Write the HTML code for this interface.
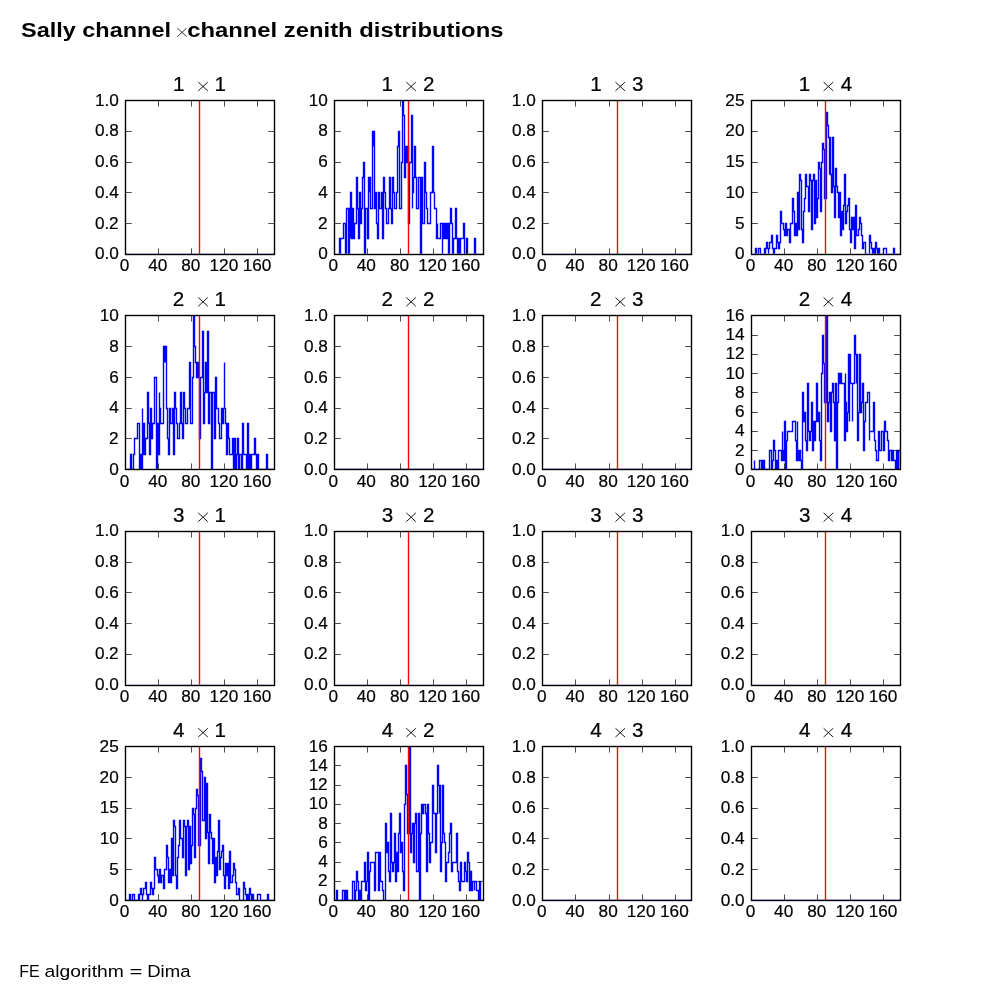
<!DOCTYPE html>
<html><head><meta charset="utf-8"><title>Sally channel x channel zenith distributions</title>
<style>html,body{margin:0;padding:0;background:#fff;}svg{display:block;will-change:transform;}</style></head>
<body>
<svg width="1000" height="1000" viewBox="0 0 1000 1000" font-family="'Liberation Sans', sans-serif" fill="#000">
<rect width="1000" height="1000" fill="#fff"/>
<g font-weight="bold" font-size="19.6px">
<text x="21.0" y="36.9" textLength="150.0" lengthAdjust="spacingAndGlyphs">Sally channel</text>
<text x="187.2" y="36.9" textLength="316.3" lengthAdjust="spacingAndGlyphs">channel zenith distributions</text>
</g>
<path d="M177.4,28.2 L186.6,36.6 M186.6,28.2 L177.4,36.6" stroke="#000" stroke-width="0.8" fill="none"/>
<g font-size="16.9px">
<text x="19.24" y="976.8" textLength="20.54" lengthAdjust="spacingAndGlyphs">FE</text>
<text x="44.45" y="976.8" textLength="79.37" lengthAdjust="spacingAndGlyphs">algorithm</text>
<text x="129.47" y="976.8" textLength="12.9" lengthAdjust="spacingAndGlyphs">=</text>
<text x="147.24" y="976.8" textLength="43.25" lengthAdjust="spacingAndGlyphs">Dima</text>
</g>
<clipPath id="c11"><rect x="125.00" y="100.00" width="149.04" height="153.85"/></clipPath>
<path d="M125.5,254.5 H274.5" stroke="#00f" stroke-width="1.39" fill="none" stroke-linejoin="miter" clip-path="url(#c11)"/>
<path d="M199.50,100.00 V253.85" stroke="#f00" stroke-width="1.39" fill="none"/>
<path d="M125.5,254.5 v-6.1 M125.5,100.5 v6.1 M158.5,254.5 v-6.1 M158.5,100.5 v6.1 M191.5,254.5 v-6.1 M191.5,100.5 v6.1 M224.5,254.5 v-6.1 M224.5,100.5 v6.1 M257.5,254.5 v-6.1 M257.5,100.5 v6.1 M125.5,254.5 h6.3 M274.5,254.5 h-6.3 M125.5,223.5 h6.3 M274.5,223.5 h-6.3 M125.5,192.5 h6.3 M274.5,192.5 h-6.3 M125.5,162.5 h6.3 M274.5,162.5 h-6.3 M125.5,131.5 h6.3 M274.5,131.5 h-6.3 M125.5,100.5 h6.3 M274.5,100.5 h-6.3" stroke="#000" stroke-width="0.7" fill="none"/>
<rect x="125.5" y="100.5" width="149.0" height="154.0" fill="none" stroke="#000" stroke-width="1.39"/>
<g font-size="17.2px" stroke="#000" stroke-width="0.2">
<text x="119.81" y="271.25">0</text>
<text x="148.16 157.70" y="271.25">40</text>
<text x="181.28 190.82" y="271.25">80</text>
<text x="209.54 218.95 228.72" y="271.25">120</text>
<text x="242.66 252.29 261.84" y="271.25">160</text>
<text x="95.03 104.57 109.34" y="259.45">0.0</text>
<text x="95.03 104.57 109.12" y="228.68">0.2</text>
<text x="95.03 104.57 109.34" y="197.91">0.4</text>
<text x="95.03 104.57 109.34" y="167.14">0.6</text>
<text x="95.03 104.57 109.34" y="136.37">0.8</text>
<text x="94.94 104.57 109.34" y="105.60">1.0</text>
</g>
<g font-size="20.6px" stroke="#000" stroke-width="0.22">
<text x="172.91" y="91.00">1</text>
<text x="214.61" y="91.00">1</text>
</g>
<path d="M198.22,82.10 L207.82,90.90 M207.82,82.10 L198.22,90.90" stroke="#000" stroke-width="0.9" fill="none"/>
<clipPath id="c12"><rect x="333.65" y="100.00" width="149.04" height="153.85"/></clipPath>
<path d="M334.5,254.5 H339.5 V238.5 H340.5 V254.5 V238.5 V238.5 H343.5 V223.5 H345.5 V254.5 H346.5 V208.5 H348.5 V254.5 H349.5 V208.5 H350.5 V238.5 V192.5 V192.5 H351.5 V238.5 H352.5 V208.5 H353.5 V238.5 H354.5 V223.5 H356.5 V177.5 H357.5 V208.5 H358.5 V238.5 H359.5 V192.5 H360.5 V223.5 H361.5 V208.5 H362.5 V177.5 H363.5 V162.5 H364.5 V254.5 H365.5 V208.5 H367.5 V238.5 H368.5 V177.5 H369.5 V192.5 V177.5 V177.5 H370.5 V208.5 H372.5 V131.5 H373.5 V146.5 V131.5 V131.5 H374.5 V208.5 H375.5 V192.5 H376.5 V223.5 H377.5 V238.5 H378.5 V192.5 H379.5 V208.5 H381.5 V192.5 H382.5 V238.5 H383.5 V177.5 H384.5 V192.5 H385.5 V208.5 H386.5 V223.5 H388.5 V208.5 H389.5 V177.5 H390.5 V208.5 H391.5 V223.5 H392.5 V177.5 H393.5 V192.5 H394.5 V208.5 H396.5 V192.5 H397.5 V146.5 H398.5 V131.5 H399.5 V208.5 H401.5 V162.5 H402.5 V100.5 H403.5 V115.5 H404.5 V177.5 H405.5 V146.5 H406.5 V162.5 H407.5 V146.5 H408.5 V223.5 H409.5 V162.5 H411.5 V115.5 H412.5 V208.5 V115.5 V192.5 H413.5 V177.5 H414.5 V146.5 H415.5 V177.5 H416.5 V208.5 H418.5 V177.5 H420.5 V254.5 H421.5 V177.5 H422.5 V223.5 H424.5 V162.5 H425.5 V192.5 H426.5 V208.5 H427.5 V223.5 H430.5 V192.5 H432.5 V146.5 H433.5 V192.5 H434.5 V208.5 H436.5 V238.5 H437.5 V238.5 V223.5 V238.5 H440.5 V223.5 H442.5 V254.5 V223.5 V238.5 H443.5 V223.5 H444.5 V238.5 H445.5 V223.5 H446.5 V238.5 H447.5 V223.5 H448.5 V254.5 H449.5 V223.5 H450.5 V208.5 H451.5 V223.5 H452.5 V254.5 H453.5 V238.5 H455.5 V208.5 H456.5 V238.5 H457.5 V254.5 H458.5 V238.5 H459.5 V254.5 H460.5 V238.5 H463.5 V223.5 H464.5 V254.5 H466.5 V238.5 H467.5 V254.5 H474.5 V238.5 H475.5 V254.5 H483.5 H483.5 V254.5" stroke="#00f" stroke-width="1.39" fill="none" stroke-linejoin="miter" clip-path="url(#c12)"/>
<path d="M408.50,100.00 V253.85" stroke="#f00" stroke-width="1.39" fill="none"/>
<path d="M334.5,254.5 v-6.1 M334.5,100.5 v6.1 M367.5,254.5 v-6.1 M367.5,100.5 v6.1 M400.5,254.5 v-6.1 M400.5,100.5 v6.1 M433.5,254.5 v-6.1 M433.5,100.5 v6.1 M466.5,254.5 v-6.1 M466.5,100.5 v6.1 M334.5,254.5 h6.3 M483.5,254.5 h-6.3 M334.5,223.5 h6.3 M483.5,223.5 h-6.3 M334.5,192.5 h6.3 M483.5,192.5 h-6.3 M334.5,162.5 h6.3 M483.5,162.5 h-6.3 M334.5,131.5 h6.3 M483.5,131.5 h-6.3 M334.5,100.5 h6.3 M483.5,100.5 h-6.3" stroke="#000" stroke-width="0.7" fill="none"/>
<rect x="334.5" y="100.5" width="149.0" height="154.0" fill="none" stroke="#000" stroke-width="1.39"/>
<g font-size="17.2px" stroke="#000" stroke-width="0.2">
<text x="328.47" y="271.25">0</text>
<text x="356.81 366.36" y="271.25">40</text>
<text x="389.93 399.48" y="271.25">80</text>
<text x="418.20 427.61 437.37" y="271.25">120</text>
<text x="451.32 460.95 470.49" y="271.25">160</text>
<text x="318.30" y="259.45">0</text>
<text x="318.08" y="228.68">2</text>
<text x="318.29" y="197.91">4</text>
<text x="318.30" y="167.14">6</text>
<text x="318.29" y="136.37">8</text>
<text x="308.67 318.30" y="105.60">10</text>
</g>
<g font-size="20.6px" stroke="#000" stroke-width="0.22">
<text x="381.56" y="91.00">1</text>
<text x="423.10" y="91.00">2</text>
</g>
<path d="M406.27,82.10 L415.87,90.90 M415.87,82.10 L406.27,90.90" stroke="#000" stroke-width="0.9" fill="none"/>
<clipPath id="c13"><rect x="542.31" y="100.00" width="149.04" height="153.85"/></clipPath>
<path d="M542.5,254.5 H691.5" stroke="#00f" stroke-width="1.39" fill="none" stroke-linejoin="miter" clip-path="url(#c13)"/>
<path d="M617.50,100.00 V253.85" stroke="#f00" stroke-width="1.39" fill="none"/>
<path d="M542.5,254.5 v-6.1 M542.5,100.5 v6.1 M575.5,254.5 v-6.1 M575.5,100.5 v6.1 M609.5,254.5 v-6.1 M609.5,100.5 v6.1 M642.5,254.5 v-6.1 M642.5,100.5 v6.1 M675.5,254.5 v-6.1 M675.5,100.5 v6.1 M542.5,254.5 h6.3 M691.5,254.5 h-6.3 M542.5,223.5 h6.3 M691.5,223.5 h-6.3 M542.5,192.5 h6.3 M691.5,192.5 h-6.3 M542.5,162.5 h6.3 M691.5,162.5 h-6.3 M542.5,131.5 h6.3 M691.5,131.5 h-6.3 M542.5,100.5 h6.3 M691.5,100.5 h-6.3" stroke="#000" stroke-width="0.7" fill="none"/>
<rect x="542.5" y="100.5" width="149.0" height="154.0" fill="none" stroke="#000" stroke-width="1.39"/>
<g font-size="17.2px" stroke="#000" stroke-width="0.2">
<text x="537.12" y="271.25">0</text>
<text x="565.47 575.01" y="271.25">40</text>
<text x="598.59 608.13" y="271.25">80</text>
<text x="626.85 636.26 646.02" y="271.25">120</text>
<text x="659.97 669.60 679.14" y="271.25">160</text>
<text x="511.94 521.48 526.25" y="259.45">0.0</text>
<text x="511.94 521.48 526.03" y="228.68">0.2</text>
<text x="511.94 521.48 526.25" y="197.91">0.4</text>
<text x="511.94 521.48 526.25" y="167.14">0.6</text>
<text x="511.94 521.48 526.25" y="136.37">0.8</text>
<text x="511.85 521.48 526.25" y="105.60">1.0</text>
</g>
<g font-size="20.6px" stroke="#000" stroke-width="0.22">
<text x="590.22" y="91.00">1</text>
<text x="632.05" y="91.00">3</text>
</g>
<path d="M615.43,82.10 L625.03,90.90 M625.03,82.10 L615.43,90.90" stroke="#000" stroke-width="0.9" fill="none"/>
<clipPath id="c14"><rect x="750.96" y="100.00" width="149.04" height="153.85"/></clipPath>
<path d="M751.5,254.5 H755.5 V248.5 H756.5 V254.5 H758.5 V248.5 H760.5 V254.5 H764.5 V248.5 H765.5 V254.5 V248.5 V248.5 H766.5 V242.5 H767.5 V248.5 H768.5 V254.5 V248.5 V248.5 H769.5 V242.5 H771.5 V235.5 H772.5 V248.5 H773.5 V254.5 H774.5 V248.5 H776.5 V235.5 H777.5 V242.5 H778.5 V248.5 H779.5 V242.5 H780.5 V211.5 H781.5 V223.5 H783.5 V229.5 H784.5 V235.5 H785.5 V223.5 H786.5 V235.5 H787.5 V229.5 H789.5 V242.5 H790.5 V223.5 H792.5 V198.5 H793.5 V211.5 H794.5 V235.5 H795.5 V223.5 H796.5 V235.5 H797.5 V192.5 H798.5 V229.5 H799.5 V174.5 H800.5 V180.5 H801.5 V229.5 H802.5 V242.5 H803.5 V211.5 H804.5 V198.5 H805.5 V174.5 H806.5 V186.5 H808.5 V211.5 H809.5 V174.5 H810.5 V180.5 H811.5 V229.5 H812.5 V180.5 H813.5 V174.5 H814.5 V223.5 H815.5 V180.5 H816.5 V217.5 H817.5 V198.5 H818.5 V162.5 H819.5 V168.5 H820.5 V211.5 H821.5 V162.5 H822.5 V143.5 H823.5 V149.5 H824.5 V198.5 H826.5 V112.5 H827.5 V125.5 H828.5 V137.5 H829.5 V174.5 V137.5 V137.5 H830.5 V174.5 H831.5 V192.5 H832.5 V137.5 H833.5 V186.5 H834.5 V217.5 H835.5 V168.5 H836.5 V186.5 H837.5 V192.5 H838.5 V217.5 H839.5 V192.5 H840.5 V235.5 H841.5 V211.5 H842.5 V229.5 H843.5 V205.5 H844.5 V174.5 H845.5 V223.5 H846.5 V211.5 H847.5 V205.5 H848.5 V198.5 H849.5 V229.5 H850.5 V242.5 H851.5 V217.5 H852.5 V229.5 H853.5 V217.5 H854.5 V248.5 H855.5 V205.5 H856.5 V235.5 H858.5 V229.5 H859.5 V217.5 H860.5 V223.5 H861.5 V235.5 H862.5 V248.5 H863.5 V242.5 H865.5 V254.5 H869.5 V235.5 H870.5 V242.5 H871.5 V248.5 H872.5 V254.5 H873.5 V248.5 H874.5 V254.5 H875.5 V242.5 H876.5 V248.5 H877.5 V254.5 H878.5 V248.5 H879.5 V254.5 H883.5 V248.5 H886.5 V254.5 H893.5 V248.5 H894.5 V254.5 H900.5 H900.5 V254.5" stroke="#00f" stroke-width="1.39" fill="none" stroke-linejoin="miter" clip-path="url(#c14)"/>
<path d="M825.50,100.00 V253.85" stroke="#f00" stroke-width="1.39" fill="none"/>
<path d="M751.5,254.5 v-6.1 M751.5,100.5 v6.1 M784.5,254.5 v-6.1 M784.5,100.5 v6.1 M817.5,254.5 v-6.1 M817.5,100.5 v6.1 M850.5,254.5 v-6.1 M850.5,100.5 v6.1 M883.5,254.5 v-6.1 M883.5,100.5 v6.1 M751.5,254.5 h6.3 M900.5,254.5 h-6.3 M751.5,223.5 h6.3 M900.5,223.5 h-6.3 M751.5,192.5 h6.3 M900.5,192.5 h-6.3 M751.5,162.5 h6.3 M900.5,162.5 h-6.3 M751.5,131.5 h6.3 M900.5,131.5 h-6.3 M751.5,100.5 h6.3 M900.5,100.5 h-6.3" stroke="#000" stroke-width="0.7" fill="none"/>
<rect x="751.5" y="100.5" width="149.0" height="154.0" fill="none" stroke="#000" stroke-width="1.39"/>
<g font-size="17.2px" stroke="#000" stroke-width="0.2">
<text x="745.77" y="271.25">0</text>
<text x="774.12 783.67" y="271.25">40</text>
<text x="807.24 816.79" y="271.25">80</text>
<text x="835.51 844.91 854.68" y="271.25">120</text>
<text x="868.63 878.26 887.80" y="271.25">160</text>
<text x="735.10" y="259.45">0</text>
<text x="735.04" y="228.68">5</text>
<text x="725.47 735.10" y="197.91">10</text>
<text x="725.47 735.04" y="167.14">15</text>
<text x="725.34 735.10" y="136.37">20</text>
<text x="725.34 735.04" y="105.60">25</text>
</g>
<g font-size="20.6px" stroke="#000" stroke-width="0.22">
<text x="798.87" y="91.00">1</text>
<text x="840.67" y="91.00">4</text>
</g>
<path d="M823.58,82.10 L833.18,90.90 M833.18,82.10 L823.58,90.90" stroke="#000" stroke-width="0.9" fill="none"/>
<clipPath id="c21"><rect x="125.00" y="315.38" width="149.04" height="153.85"/></clipPath>
<path d="M125.5,469.5 H130.5 V454.5 H131.5 V469.5 H133.5 V454.5 H134.5 V438.5 H137.5 V423.5 H139.5 V469.5 H140.5 V454.5 H141.5 V469.5 H142.5 V469.5 V408.5 V454.5 H143.5 V423.5 H144.5 V454.5 H145.5 V438.5 H147.5 V392.5 H148.5 V423.5 H149.5 V454.5 H150.5 V408.5 H151.5 V438.5 H152.5 V423.5 H154.5 V377.5 H156.5 V469.5 H157.5 V423.5 H158.5 V454.5 H159.5 V454.5 V392.5 V408.5 H160.5 V423.5 H163.5 V346.5 H164.5 V362.5 V346.5 V346.5 H165.5 V362.5 V346.5 V346.5 H166.5 V408.5 H167.5 V438.5 H168.5 V454.5 H169.5 V408.5 H170.5 V423.5 H172.5 V408.5 H173.5 V454.5 H174.5 V392.5 H175.5 V408.5 H176.5 V423.5 H177.5 V438.5 H179.5 V423.5 H180.5 V392.5 H181.5 V423.5 H182.5 V438.5 H183.5 V392.5 H184.5 V408.5 H185.5 V423.5 H187.5 V408.5 H189.5 V362.5 H190.5 V423.5 H192.5 V377.5 H193.5 V315.5 H194.5 V346.5 H195.5 V362.5 H196.5 V377.5 H197.5 V362.5 H198.5 V377.5 H199.5 V438.5 H200.5 V377.5 H202.5 V331.5 H203.5 V423.5 H204.5 V392.5 H205.5 V362.5 H206.5 V392.5 H207.5 V331.5 H208.5 V423.5 H209.5 V392.5 H211.5 V469.5 H212.5 V392.5 H214.5 V438.5 H215.5 V377.5 H216.5 V408.5 H218.5 V423.5 H219.5 V438.5 H221.5 V408.5 H222.5 V423.5 H223.5 V408.5 H224.5 V408.5 V362.5 V408.5 H225.5 V423.5 H226.5 V454.5 H227.5 V423.5 H228.5 V438.5 H229.5 V454.5 H232.5 V438.5 H233.5 V469.5 H234.5 V438.5 H235.5 V469.5 H236.5 V454.5 H237.5 V438.5 H238.5 V469.5 H239.5 V454.5 H241.5 V469.5 H242.5 V423.5 H243.5 V454.5 H246.5 V469.5 H247.5 V423.5 H248.5 V469.5 H249.5 V454.5 H250.5 V469.5 H251.5 V454.5 H254.5 V438.5 H255.5 V454.5 H256.5 V469.5 H257.5 V454.5 H258.5 V469.5 H266.5 V454.5 H267.5 V469.5 H274.5 H274.5 V469.5" stroke="#00f" stroke-width="1.39" fill="none" stroke-linejoin="miter" clip-path="url(#c21)"/>
<path d="M199.50,315.38 V469.23" stroke="#f00" stroke-width="1.39" fill="none"/>
<path d="M125.5,469.5 v-6.1 M125.5,315.5 v6.1 M158.5,469.5 v-6.1 M158.5,315.5 v6.1 M191.5,469.5 v-6.1 M191.5,315.5 v6.1 M224.5,469.5 v-6.1 M224.5,315.5 v6.1 M257.5,469.5 v-6.1 M257.5,315.5 v6.1 M125.5,469.5 h6.3 M274.5,469.5 h-6.3 M125.5,438.5 h6.3 M274.5,438.5 h-6.3 M125.5,408.5 h6.3 M274.5,408.5 h-6.3 M125.5,377.5 h6.3 M274.5,377.5 h-6.3 M125.5,346.5 h6.3 M274.5,346.5 h-6.3 M125.5,315.5 h6.3 M274.5,315.5 h-6.3" stroke="#000" stroke-width="0.7" fill="none"/>
<rect x="125.5" y="315.5" width="149.0" height="154.0" fill="none" stroke="#000" stroke-width="1.39"/>
<g font-size="17.2px" stroke="#000" stroke-width="0.2">
<text x="119.81" y="486.63">0</text>
<text x="148.16 157.70" y="486.63">40</text>
<text x="181.28 190.82" y="486.63">80</text>
<text x="209.54 218.95 228.72" y="486.63">120</text>
<text x="242.66 252.29 261.84" y="486.63">160</text>
<text x="109.34" y="474.83">0</text>
<text x="109.12" y="444.06">2</text>
<text x="109.34" y="413.29">4</text>
<text x="109.34" y="382.52">6</text>
<text x="109.34" y="351.75">8</text>
<text x="99.71 109.34" y="320.98">10</text>
</g>
<g font-size="20.6px" stroke="#000" stroke-width="0.22">
<text x="172.75" y="306.38">2</text>
<text x="214.61" y="306.38">1</text>
</g>
<path d="M198.22,297.48 L207.82,306.28 M207.82,297.48 L198.22,306.28" stroke="#000" stroke-width="0.9" fill="none"/>
<clipPath id="c22"><rect x="333.65" y="315.38" width="149.04" height="153.85"/></clipPath>
<path d="M334.5,469.5 H483.5" stroke="#00f" stroke-width="1.39" fill="none" stroke-linejoin="miter" clip-path="url(#c22)"/>
<path d="M408.50,315.38 V469.23" stroke="#f00" stroke-width="1.39" fill="none"/>
<path d="M334.5,469.5 v-6.1 M334.5,315.5 v6.1 M367.5,469.5 v-6.1 M367.5,315.5 v6.1 M400.5,469.5 v-6.1 M400.5,315.5 v6.1 M433.5,469.5 v-6.1 M433.5,315.5 v6.1 M466.5,469.5 v-6.1 M466.5,315.5 v6.1 M334.5,469.5 h6.3 M483.5,469.5 h-6.3 M334.5,438.5 h6.3 M483.5,438.5 h-6.3 M334.5,408.5 h6.3 M483.5,408.5 h-6.3 M334.5,377.5 h6.3 M483.5,377.5 h-6.3 M334.5,346.5 h6.3 M483.5,346.5 h-6.3 M334.5,315.5 h6.3 M483.5,315.5 h-6.3" stroke="#000" stroke-width="0.7" fill="none"/>
<rect x="334.5" y="315.5" width="149.0" height="154.0" fill="none" stroke="#000" stroke-width="1.39"/>
<g font-size="17.2px" stroke="#000" stroke-width="0.2">
<text x="328.47" y="486.63">0</text>
<text x="356.81 366.36" y="486.63">40</text>
<text x="389.93 399.48" y="486.63">80</text>
<text x="418.20 427.61 437.37" y="486.63">120</text>
<text x="451.32 460.95 470.49" y="486.63">160</text>
<text x="303.98 313.53 318.30" y="474.83">0.0</text>
<text x="303.98 313.53 318.08" y="444.06">0.2</text>
<text x="303.98 313.53 318.29" y="413.29">0.4</text>
<text x="303.98 313.53 318.30" y="382.52">0.6</text>
<text x="303.98 313.53 318.29" y="351.75">0.8</text>
<text x="303.90 313.53 318.30" y="320.98">1.0</text>
</g>
<g font-size="20.6px" stroke="#000" stroke-width="0.22">
<text x="381.40" y="306.38">2</text>
<text x="423.10" y="306.38">2</text>
</g>
<path d="M406.27,297.48 L415.87,306.28 M415.87,297.48 L406.27,306.28" stroke="#000" stroke-width="0.9" fill="none"/>
<clipPath id="c23"><rect x="542.31" y="315.38" width="149.04" height="153.85"/></clipPath>
<path d="M542.5,469.5 H691.5" stroke="#00f" stroke-width="1.39" fill="none" stroke-linejoin="miter" clip-path="url(#c23)"/>
<path d="M617.50,315.38 V469.23" stroke="#f00" stroke-width="1.39" fill="none"/>
<path d="M542.5,469.5 v-6.1 M542.5,315.5 v6.1 M575.5,469.5 v-6.1 M575.5,315.5 v6.1 M609.5,469.5 v-6.1 M609.5,315.5 v6.1 M642.5,469.5 v-6.1 M642.5,315.5 v6.1 M675.5,469.5 v-6.1 M675.5,315.5 v6.1 M542.5,469.5 h6.3 M691.5,469.5 h-6.3 M542.5,438.5 h6.3 M691.5,438.5 h-6.3 M542.5,408.5 h6.3 M691.5,408.5 h-6.3 M542.5,377.5 h6.3 M691.5,377.5 h-6.3 M542.5,346.5 h6.3 M691.5,346.5 h-6.3 M542.5,315.5 h6.3 M691.5,315.5 h-6.3" stroke="#000" stroke-width="0.7" fill="none"/>
<rect x="542.5" y="315.5" width="149.0" height="154.0" fill="none" stroke="#000" stroke-width="1.39"/>
<g font-size="17.2px" stroke="#000" stroke-width="0.2">
<text x="537.12" y="486.63">0</text>
<text x="565.47 575.01" y="486.63">40</text>
<text x="598.59 608.13" y="486.63">80</text>
<text x="626.85 636.26 646.02" y="486.63">120</text>
<text x="659.97 669.60 679.14" y="486.63">160</text>
<text x="511.94 521.48 526.25" y="474.83">0.0</text>
<text x="511.94 521.48 526.03" y="444.06">0.2</text>
<text x="511.94 521.48 526.25" y="413.29">0.4</text>
<text x="511.94 521.48 526.25" y="382.52">0.6</text>
<text x="511.94 521.48 526.25" y="351.75">0.8</text>
<text x="511.85 521.48 526.25" y="320.98">1.0</text>
</g>
<g font-size="20.6px" stroke="#000" stroke-width="0.22">
<text x="590.06" y="306.38">2</text>
<text x="632.05" y="306.38">3</text>
</g>
<path d="M615.43,297.48 L625.03,306.28 M625.03,297.48 L615.43,306.28" stroke="#000" stroke-width="0.9" fill="none"/>
<clipPath id="c24"><rect x="750.96" y="315.38" width="149.04" height="153.85"/></clipPath>
<path d="M751.5,469.5 H754.5 V469.5 V460.5 V469.5 H759.5 V460.5 H761.5 V469.5 H762.5 V460.5 H763.5 V469.5 V460.5 V460.5 H764.5 V469.5 H769.5 V450.5 H771.5 V469.5 H772.5 V460.5 H773.5 V440.5 H774.5 V450.5 H775.5 V469.5 H776.5 V460.5 H777.5 V469.5 H778.5 V450.5 H781.5 V460.5 H782.5 V460.5 V431.5 V450.5 H783.5 V460.5 H784.5 V421.5 H785.5 V469.5 H786.5 V440.5 H787.5 V431.5 H792.5 V421.5 H795.5 V440.5 H796.5 V460.5 H797.5 V460.5 V421.5 V450.5 H798.5 V460.5 H799.5 V450.5 H800.5 V460.5 H801.5 V469.5 H802.5 V392.5 H803.5 V421.5 H804.5 V412.5 H805.5 V440.5 H806.5 V450.5 H807.5 V383.5 H808.5 V431.5 H809.5 V440.5 H810.5 V431.5 H811.5 V402.5 H812.5 V450.5 H813.5 V421.5 H814.5 V440.5 H815.5 V421.5 H816.5 V383.5 H817.5 V421.5 H818.5 V412.5 H819.5 V440.5 H820.5 V460.5 H821.5 V373.5 H822.5 V335.5 H823.5 V363.5 H824.5 V402.5 H826.5 V315.5 H827.5 V421.5 H828.5 V402.5 H829.5 V392.5 H830.5 V431.5 H831.5 V392.5 H832.5 V383.5 H833.5 V402.5 H834.5 V440.5 H835.5 V383.5 H836.5 V469.5 H837.5 V402.5 H838.5 V373.5 H839.5 V383.5 H840.5 V373.5 H841.5 V383.5 H844.5 V440.5 H845.5 V440.5 V373.5 V402.5 H846.5 V431.5 H847.5 V412.5 H848.5 V354.5 H849.5 V421.5 V354.5 V354.5 H850.5 V383.5 H852.5 V421.5 V383.5 V383.5 H854.5 V335.5 H855.5 V354.5 H856.5 V383.5 V354.5 V354.5 H857.5 V440.5 H858.5 V412.5 H859.5 V354.5 H860.5 V412.5 H861.5 V402.5 H862.5 V383.5 H863.5 V450.5 H864.5 V421.5 H865.5 V402.5 H867.5 V392.5 H869.5 V440.5 V392.5 V431.5 H873.5 V402.5 H874.5 V440.5 H875.5 V450.5 H876.5 V460.5 H878.5 V431.5 H879.5 V450.5 H881.5 V431.5 H883.5 V450.5 H884.5 V421.5 H885.5 V431.5 H887.5 V440.5 H888.5 V460.5 H889.5 V450.5 H891.5 V460.5 H892.5 V450.5 H893.5 V460.5 H895.5 V469.5 H896.5 V450.5 H897.5 V469.5 H898.5 V450.5 H900.5 H900.5 V469.5" stroke="#00f" stroke-width="1.39" fill="none" stroke-linejoin="miter" clip-path="url(#c24)"/>
<path d="M825.50,315.38 V469.23" stroke="#f00" stroke-width="1.39" fill="none"/>
<path d="M751.5,469.5 v-6.1 M751.5,315.5 v6.1 M784.5,469.5 v-6.1 M784.5,315.5 v6.1 M817.5,469.5 v-6.1 M817.5,315.5 v6.1 M850.5,469.5 v-6.1 M850.5,315.5 v6.1 M883.5,469.5 v-6.1 M883.5,315.5 v6.1 M751.5,469.5 h6.3 M900.5,469.5 h-6.3 M751.5,450.5 h6.3 M900.5,450.5 h-6.3 M751.5,431.5 h6.3 M900.5,431.5 h-6.3 M751.5,412.5 h6.3 M900.5,412.5 h-6.3 M751.5,392.5 h6.3 M900.5,392.5 h-6.3 M751.5,373.5 h6.3 M900.5,373.5 h-6.3 M751.5,354.5 h6.3 M900.5,354.5 h-6.3 M751.5,335.5 h6.3 M900.5,335.5 h-6.3 M751.5,315.5 h6.3 M900.5,315.5 h-6.3" stroke="#000" stroke-width="0.7" fill="none"/>
<rect x="751.5" y="315.5" width="149.0" height="154.0" fill="none" stroke="#000" stroke-width="1.39"/>
<g font-size="17.2px" stroke="#000" stroke-width="0.2">
<text x="745.77" y="486.63">0</text>
<text x="774.12 783.67" y="486.63">40</text>
<text x="807.24 816.79" y="486.63">80</text>
<text x="835.51 844.91 854.68" y="486.63">120</text>
<text x="868.63 878.26 887.80" y="486.63">160</text>
<text x="735.10" y="474.83">0</text>
<text x="734.88" y="455.60">2</text>
<text x="735.10" y="436.37">4</text>
<text x="735.10" y="417.14">6</text>
<text x="735.10" y="397.91">8</text>
<text x="725.47 735.10" y="378.68">10</text>
<text x="725.47 734.88" y="359.45">12</text>
<text x="725.47 735.10" y="340.22">14</text>
<text x="725.47 735.10" y="320.98">16</text>
</g>
<g font-size="20.6px" stroke="#000" stroke-width="0.22">
<text x="798.71" y="306.38">2</text>
<text x="840.67" y="306.38">4</text>
</g>
<path d="M823.58,297.48 L833.18,306.28 M833.18,297.48 L823.58,306.28" stroke="#000" stroke-width="0.9" fill="none"/>
<clipPath id="c31"><rect x="125.00" y="530.77" width="149.04" height="153.85"/></clipPath>
<path d="M125.5,685.5 H274.5" stroke="#00f" stroke-width="1.39" fill="none" stroke-linejoin="miter" clip-path="url(#c31)"/>
<path d="M199.50,530.77 V684.62" stroke="#f00" stroke-width="1.39" fill="none"/>
<path d="M125.5,685.5 v-6.1 M125.5,531.5 v6.1 M158.5,685.5 v-6.1 M158.5,531.5 v6.1 M191.5,685.5 v-6.1 M191.5,531.5 v6.1 M224.5,685.5 v-6.1 M224.5,531.5 v6.1 M257.5,685.5 v-6.1 M257.5,531.5 v6.1 M125.5,685.5 h6.3 M274.5,685.5 h-6.3 M125.5,654.5 h6.3 M274.5,654.5 h-6.3 M125.5,623.5 h6.3 M274.5,623.5 h-6.3 M125.5,592.5 h6.3 M274.5,592.5 h-6.3 M125.5,562.5 h6.3 M274.5,562.5 h-6.3 M125.5,531.5 h6.3 M274.5,531.5 h-6.3" stroke="#000" stroke-width="0.7" fill="none"/>
<rect x="125.5" y="531.5" width="149.0" height="154.0" fill="none" stroke="#000" stroke-width="1.39"/>
<g font-size="17.2px" stroke="#000" stroke-width="0.2">
<text x="119.81" y="702.02">0</text>
<text x="148.16 157.70" y="702.02">40</text>
<text x="181.28 190.82" y="702.02">80</text>
<text x="209.54 218.95 228.72" y="702.02">120</text>
<text x="242.66 252.29 261.84" y="702.02">160</text>
<text x="95.03 104.57 109.34" y="690.22">0.0</text>
<text x="95.03 104.57 109.12" y="659.45">0.2</text>
<text x="95.03 104.57 109.34" y="628.68">0.4</text>
<text x="95.03 104.57 109.34" y="597.91">0.6</text>
<text x="95.03 104.57 109.34" y="567.14">0.8</text>
<text x="94.94 104.57 109.34" y="536.37">1.0</text>
</g>
<g font-size="20.6px" stroke="#000" stroke-width="0.22">
<text x="173.04" y="521.77">3</text>
<text x="214.61" y="521.77">1</text>
</g>
<path d="M198.22,512.87 L207.82,521.67 M207.82,512.87 L198.22,521.67" stroke="#000" stroke-width="0.9" fill="none"/>
<clipPath id="c32"><rect x="333.65" y="530.77" width="149.04" height="153.85"/></clipPath>
<path d="M334.5,685.5 H483.5" stroke="#00f" stroke-width="1.39" fill="none" stroke-linejoin="miter" clip-path="url(#c32)"/>
<path d="M408.50,530.77 V684.62" stroke="#f00" stroke-width="1.39" fill="none"/>
<path d="M334.5,685.5 v-6.1 M334.5,531.5 v6.1 M367.5,685.5 v-6.1 M367.5,531.5 v6.1 M400.5,685.5 v-6.1 M400.5,531.5 v6.1 M433.5,685.5 v-6.1 M433.5,531.5 v6.1 M466.5,685.5 v-6.1 M466.5,531.5 v6.1 M334.5,685.5 h6.3 M483.5,685.5 h-6.3 M334.5,654.5 h6.3 M483.5,654.5 h-6.3 M334.5,623.5 h6.3 M483.5,623.5 h-6.3 M334.5,592.5 h6.3 M483.5,592.5 h-6.3 M334.5,562.5 h6.3 M483.5,562.5 h-6.3 M334.5,531.5 h6.3 M483.5,531.5 h-6.3" stroke="#000" stroke-width="0.7" fill="none"/>
<rect x="334.5" y="531.5" width="149.0" height="154.0" fill="none" stroke="#000" stroke-width="1.39"/>
<g font-size="17.2px" stroke="#000" stroke-width="0.2">
<text x="328.47" y="702.02">0</text>
<text x="356.81 366.36" y="702.02">40</text>
<text x="389.93 399.48" y="702.02">80</text>
<text x="418.20 427.61 437.37" y="702.02">120</text>
<text x="451.32 460.95 470.49" y="702.02">160</text>
<text x="303.98 313.53 318.30" y="690.22">0.0</text>
<text x="303.98 313.53 318.08" y="659.45">0.2</text>
<text x="303.98 313.53 318.29" y="628.68">0.4</text>
<text x="303.98 313.53 318.30" y="597.91">0.6</text>
<text x="303.98 313.53 318.29" y="567.14">0.8</text>
<text x="303.90 313.53 318.30" y="536.37">1.0</text>
</g>
<g font-size="20.6px" stroke="#000" stroke-width="0.22">
<text x="381.69" y="521.77">3</text>
<text x="423.10" y="521.77">2</text>
</g>
<path d="M406.27,512.87 L415.87,521.67 M415.87,512.87 L406.27,521.67" stroke="#000" stroke-width="0.9" fill="none"/>
<clipPath id="c33"><rect x="542.31" y="530.77" width="149.04" height="153.85"/></clipPath>
<path d="M542.5,685.5 H691.5" stroke="#00f" stroke-width="1.39" fill="none" stroke-linejoin="miter" clip-path="url(#c33)"/>
<path d="M617.50,530.77 V684.62" stroke="#f00" stroke-width="1.39" fill="none"/>
<path d="M542.5,685.5 v-6.1 M542.5,531.5 v6.1 M575.5,685.5 v-6.1 M575.5,531.5 v6.1 M609.5,685.5 v-6.1 M609.5,531.5 v6.1 M642.5,685.5 v-6.1 M642.5,531.5 v6.1 M675.5,685.5 v-6.1 M675.5,531.5 v6.1 M542.5,685.5 h6.3 M691.5,685.5 h-6.3 M542.5,654.5 h6.3 M691.5,654.5 h-6.3 M542.5,623.5 h6.3 M691.5,623.5 h-6.3 M542.5,592.5 h6.3 M691.5,592.5 h-6.3 M542.5,562.5 h6.3 M691.5,562.5 h-6.3 M542.5,531.5 h6.3 M691.5,531.5 h-6.3" stroke="#000" stroke-width="0.7" fill="none"/>
<rect x="542.5" y="531.5" width="149.0" height="154.0" fill="none" stroke="#000" stroke-width="1.39"/>
<g font-size="17.2px" stroke="#000" stroke-width="0.2">
<text x="537.12" y="702.02">0</text>
<text x="565.47 575.01" y="702.02">40</text>
<text x="598.59 608.13" y="702.02">80</text>
<text x="626.85 636.26 646.02" y="702.02">120</text>
<text x="659.97 669.60 679.14" y="702.02">160</text>
<text x="511.94 521.48 526.25" y="690.22">0.0</text>
<text x="511.94 521.48 526.03" y="659.45">0.2</text>
<text x="511.94 521.48 526.25" y="628.68">0.4</text>
<text x="511.94 521.48 526.25" y="597.91">0.6</text>
<text x="511.94 521.48 526.25" y="567.14">0.8</text>
<text x="511.85 521.48 526.25" y="536.37">1.0</text>
</g>
<g font-size="20.6px" stroke="#000" stroke-width="0.22">
<text x="590.35" y="521.77">3</text>
<text x="632.05" y="521.77">3</text>
</g>
<path d="M615.43,512.87 L625.03,521.67 M625.03,512.87 L615.43,521.67" stroke="#000" stroke-width="0.9" fill="none"/>
<clipPath id="c34"><rect x="750.96" y="530.77" width="149.04" height="153.85"/></clipPath>
<path d="M751.5,685.5 H900.5" stroke="#00f" stroke-width="1.39" fill="none" stroke-linejoin="miter" clip-path="url(#c34)"/>
<path d="M825.50,530.77 V684.62" stroke="#f00" stroke-width="1.39" fill="none"/>
<path d="M751.5,685.5 v-6.1 M751.5,531.5 v6.1 M784.5,685.5 v-6.1 M784.5,531.5 v6.1 M817.5,685.5 v-6.1 M817.5,531.5 v6.1 M850.5,685.5 v-6.1 M850.5,531.5 v6.1 M883.5,685.5 v-6.1 M883.5,531.5 v6.1 M751.5,685.5 h6.3 M900.5,685.5 h-6.3 M751.5,654.5 h6.3 M900.5,654.5 h-6.3 M751.5,623.5 h6.3 M900.5,623.5 h-6.3 M751.5,592.5 h6.3 M900.5,592.5 h-6.3 M751.5,562.5 h6.3 M900.5,562.5 h-6.3 M751.5,531.5 h6.3 M900.5,531.5 h-6.3" stroke="#000" stroke-width="0.7" fill="none"/>
<rect x="751.5" y="531.5" width="149.0" height="154.0" fill="none" stroke="#000" stroke-width="1.39"/>
<g font-size="17.2px" stroke="#000" stroke-width="0.2">
<text x="745.77" y="702.02">0</text>
<text x="774.12 783.67" y="702.02">40</text>
<text x="807.24 816.79" y="702.02">80</text>
<text x="835.51 844.91 854.68" y="702.02">120</text>
<text x="868.63 878.26 887.80" y="702.02">160</text>
<text x="720.79 730.34 735.10" y="690.22">0.0</text>
<text x="720.79 730.34 734.88" y="659.45">0.2</text>
<text x="720.79 730.34 735.10" y="628.68">0.4</text>
<text x="720.79 730.34 735.10" y="597.91">0.6</text>
<text x="720.79 730.34 735.10" y="567.14">0.8</text>
<text x="720.71 730.34 735.10" y="536.37">1.0</text>
</g>
<g font-size="20.6px" stroke="#000" stroke-width="0.22">
<text x="799.00" y="521.77">3</text>
<text x="840.67" y="521.77">4</text>
</g>
<path d="M823.58,512.87 L833.18,521.67 M833.18,512.87 L823.58,521.67" stroke="#000" stroke-width="0.9" fill="none"/>
<clipPath id="c41"><rect x="125.00" y="746.15" width="149.04" height="153.85"/></clipPath>
<path d="M125.5,900.5 H129.5 V894.5 H130.5 V900.5 H132.5 V894.5 H134.5 V900.5 H138.5 V894.5 H139.5 V900.5 V894.5 V894.5 H140.5 V888.5 H141.5 V894.5 H142.5 V900.5 V894.5 V894.5 H143.5 V888.5 H145.5 V882.5 H146.5 V894.5 H147.5 V900.5 H148.5 V894.5 H150.5 V882.5 H151.5 V888.5 H152.5 V894.5 H153.5 V888.5 H154.5 V857.5 H155.5 V869.5 H157.5 V875.5 H158.5 V882.5 H159.5 V869.5 H160.5 V882.5 H161.5 V875.5 H163.5 V888.5 H164.5 V869.5 H166.5 V845.5 H167.5 V857.5 H168.5 V882.5 H169.5 V869.5 H170.5 V882.5 H171.5 V838.5 H172.5 V875.5 H173.5 V820.5 H174.5 V826.5 H175.5 V875.5 H176.5 V888.5 H177.5 V857.5 H178.5 V845.5 H179.5 V820.5 H180.5 V838.5 H182.5 V857.5 H183.5 V820.5 H184.5 V826.5 H185.5 V875.5 H186.5 V826.5 H187.5 V820.5 H188.5 V869.5 H189.5 V826.5 H190.5 V863.5 H191.5 V845.5 H192.5 V808.5 H193.5 V814.5 H194.5 V857.5 H195.5 V808.5 H196.5 V789.5 H197.5 V795.5 H198.5 V845.5 H200.5 V758.5 H201.5 V771.5 H202.5 V820.5 H204.5 V777.5 H205.5 V838.5 H206.5 V783.5 H207.5 V832.5 H208.5 V863.5 H209.5 V814.5 H210.5 V832.5 H211.5 V838.5 H212.5 V863.5 H213.5 V838.5 H214.5 V882.5 H215.5 V857.5 H216.5 V875.5 H217.5 V851.5 H218.5 V820.5 H219.5 V869.5 H220.5 V857.5 H221.5 V851.5 H222.5 V845.5 H223.5 V875.5 H224.5 V888.5 H225.5 V863.5 H226.5 V875.5 H227.5 V863.5 H228.5 V888.5 H229.5 V851.5 H230.5 V882.5 H232.5 V875.5 H233.5 V863.5 H234.5 V869.5 H235.5 V882.5 H236.5 V894.5 H238.5 V888.5 H239.5 V900.5 H243.5 V882.5 H244.5 V888.5 H245.5 V894.5 H246.5 V900.5 H247.5 V894.5 H248.5 V900.5 H249.5 V888.5 H250.5 V894.5 H251.5 V900.5 H252.5 V894.5 H253.5 V900.5 H257.5 V894.5 H260.5 V900.5 H267.5 V894.5 H268.5 V900.5 H274.5 H274.5 V900.5" stroke="#00f" stroke-width="1.39" fill="none" stroke-linejoin="miter" clip-path="url(#c41)"/>
<path d="M199.50,746.15 V900.00" stroke="#f00" stroke-width="1.39" fill="none"/>
<path d="M125.5,900.5 v-6.1 M125.5,746.5 v6.1 M158.5,900.5 v-6.1 M158.5,746.5 v6.1 M191.5,900.5 v-6.1 M191.5,746.5 v6.1 M224.5,900.5 v-6.1 M224.5,746.5 v6.1 M257.5,900.5 v-6.1 M257.5,746.5 v6.1 M125.5,900.5 h6.3 M274.5,900.5 h-6.3 M125.5,869.5 h6.3 M274.5,869.5 h-6.3 M125.5,838.5 h6.3 M274.5,838.5 h-6.3 M125.5,808.5 h6.3 M274.5,808.5 h-6.3 M125.5,777.5 h6.3 M274.5,777.5 h-6.3 M125.5,746.5 h6.3 M274.5,746.5 h-6.3" stroke="#000" stroke-width="0.7" fill="none"/>
<rect x="125.5" y="746.5" width="149.0" height="154.0" fill="none" stroke="#000" stroke-width="1.39"/>
<g font-size="17.2px" stroke="#000" stroke-width="0.2">
<text x="119.81" y="917.40">0</text>
<text x="148.16 157.70" y="917.40">40</text>
<text x="181.28 190.82" y="917.40">80</text>
<text x="209.54 218.95 228.72" y="917.40">120</text>
<text x="242.66 252.29 261.84" y="917.40">160</text>
<text x="109.34" y="905.60">0</text>
<text x="109.28" y="874.83">5</text>
<text x="99.71 109.34" y="844.06">10</text>
<text x="99.71 109.28" y="813.29">15</text>
<text x="99.58 109.34" y="782.52">20</text>
<text x="99.58 109.28" y="751.75">25</text>
</g>
<g font-size="20.6px" stroke="#000" stroke-width="0.22">
<text x="173.01" y="737.15">4</text>
<text x="214.61" y="737.15">1</text>
</g>
<path d="M198.22,728.25 L207.82,737.05 M207.82,728.25 L198.22,737.05" stroke="#000" stroke-width="0.9" fill="none"/>
<clipPath id="c42"><rect x="333.65" y="746.15" width="149.04" height="153.85"/></clipPath>
<path d="M334.5,900.5 H336.5 V890.5 H337.5 V900.5 H342.5 V890.5 H344.5 V900.5 H345.5 V890.5 H346.5 V900.5 V890.5 V890.5 H347.5 V900.5 H352.5 V881.5 H354.5 V900.5 H355.5 V890.5 H356.5 V871.5 H357.5 V881.5 H358.5 V900.5 H359.5 V890.5 H360.5 V900.5 H361.5 V881.5 H364.5 V862.5 H365.5 V890.5 H366.5 V881.5 H367.5 V852.5 H368.5 V900.5 H369.5 V871.5 H370.5 V862.5 H374.5 V890.5 H375.5 V852.5 H378.5 V890.5 H379.5 V852.5 H380.5 V881.5 H382.5 V890.5 H383.5 V900.5 H385.5 V823.5 H386.5 V852.5 H387.5 V842.5 H388.5 V871.5 H389.5 V881.5 H390.5 V813.5 H391.5 V862.5 H392.5 V871.5 H393.5 V862.5 H394.5 V833.5 H395.5 V881.5 H396.5 V852.5 H397.5 V871.5 H398.5 V833.5 H399.5 V813.5 H400.5 V852.5 H401.5 V842.5 H402.5 V871.5 H403.5 V890.5 H404.5 V804.5 H405.5 V765.5 H406.5 V794.5 H407.5 V833.5 H409.5 V746.5 H410.5 V852.5 H411.5 V833.5 H412.5 V823.5 H413.5 V862.5 H414.5 V823.5 H415.5 V813.5 H416.5 V871.5 H418.5 V813.5 H419.5 V900.5 H420.5 V833.5 H421.5 V804.5 H422.5 V813.5 H423.5 V804.5 H425.5 V813.5 H426.5 V871.5 H427.5 V804.5 H428.5 V833.5 H429.5 V862.5 H430.5 V842.5 H432.5 V785.5 H433.5 V813.5 H435.5 V852.5 H436.5 V813.5 H437.5 V765.5 H438.5 V785.5 H439.5 V813.5 V785.5 V785.5 H440.5 V871.5 H441.5 V842.5 H442.5 V785.5 H443.5 V833.5 H444.5 V842.5 H445.5 V881.5 H446.5 V862.5 H448.5 V852.5 H449.5 V833.5 H450.5 V823.5 H451.5 V871.5 H452.5 V862.5 H456.5 V833.5 H457.5 V871.5 H458.5 V881.5 H459.5 V890.5 H460.5 V862.5 H461.5 V881.5 H464.5 V862.5 H465.5 V871.5 H466.5 V881.5 H467.5 V852.5 H468.5 V862.5 H469.5 V890.5 H470.5 V871.5 H471.5 V890.5 H472.5 V881.5 H474.5 V890.5 V881.5 V881.5 H476.5 V890.5 H478.5 V900.5 H479.5 V881.5 H480.5 V900.5 H483.5 H483.5 V900.5" stroke="#00f" stroke-width="1.39" fill="none" stroke-linejoin="miter" clip-path="url(#c42)"/>
<path d="M408.50,746.15 V900.00" stroke="#f00" stroke-width="1.39" fill="none"/>
<path d="M334.5,900.5 v-6.1 M334.5,746.5 v6.1 M367.5,900.5 v-6.1 M367.5,746.5 v6.1 M400.5,900.5 v-6.1 M400.5,746.5 v6.1 M433.5,900.5 v-6.1 M433.5,746.5 v6.1 M466.5,900.5 v-6.1 M466.5,746.5 v6.1 M334.5,900.5 h6.3 M483.5,900.5 h-6.3 M334.5,881.5 h6.3 M483.5,881.5 h-6.3 M334.5,862.5 h6.3 M483.5,862.5 h-6.3 M334.5,842.5 h6.3 M483.5,842.5 h-6.3 M334.5,823.5 h6.3 M483.5,823.5 h-6.3 M334.5,804.5 h6.3 M483.5,804.5 h-6.3 M334.5,785.5 h6.3 M483.5,785.5 h-6.3 M334.5,765.5 h6.3 M483.5,765.5 h-6.3 M334.5,746.5 h6.3 M483.5,746.5 h-6.3" stroke="#000" stroke-width="0.7" fill="none"/>
<rect x="334.5" y="746.5" width="149.0" height="154.0" fill="none" stroke="#000" stroke-width="1.39"/>
<g font-size="17.2px" stroke="#000" stroke-width="0.2">
<text x="328.47" y="917.40">0</text>
<text x="356.81 366.36" y="917.40">40</text>
<text x="389.93 399.48" y="917.40">80</text>
<text x="418.20 427.61 437.37" y="917.40">120</text>
<text x="451.32 460.95 470.49" y="917.40">160</text>
<text x="318.30" y="905.60">0</text>
<text x="318.08" y="886.37">2</text>
<text x="318.29" y="867.14">4</text>
<text x="318.30" y="847.91">6</text>
<text x="318.29" y="828.68">8</text>
<text x="308.67 318.30" y="809.45">10</text>
<text x="308.67 318.08" y="790.22">12</text>
<text x="308.67 318.29" y="770.98">14</text>
<text x="308.67 318.30" y="751.75">16</text>
</g>
<g font-size="20.6px" stroke="#000" stroke-width="0.22">
<text x="381.66" y="737.15">4</text>
<text x="423.10" y="737.15">2</text>
</g>
<path d="M406.27,728.25 L415.87,737.05 M415.87,728.25 L406.27,737.05" stroke="#000" stroke-width="0.9" fill="none"/>
<clipPath id="c43"><rect x="542.31" y="746.15" width="149.04" height="153.85"/></clipPath>
<path d="M542.5,900.5 H691.5" stroke="#00f" stroke-width="1.39" fill="none" stroke-linejoin="miter" clip-path="url(#c43)"/>
<path d="M617.50,746.15 V900.00" stroke="#f00" stroke-width="1.39" fill="none"/>
<path d="M542.5,900.5 v-6.1 M542.5,746.5 v6.1 M575.5,900.5 v-6.1 M575.5,746.5 v6.1 M609.5,900.5 v-6.1 M609.5,746.5 v6.1 M642.5,900.5 v-6.1 M642.5,746.5 v6.1 M675.5,900.5 v-6.1 M675.5,746.5 v6.1 M542.5,900.5 h6.3 M691.5,900.5 h-6.3 M542.5,869.5 h6.3 M691.5,869.5 h-6.3 M542.5,838.5 h6.3 M691.5,838.5 h-6.3 M542.5,808.5 h6.3 M691.5,808.5 h-6.3 M542.5,777.5 h6.3 M691.5,777.5 h-6.3 M542.5,746.5 h6.3 M691.5,746.5 h-6.3" stroke="#000" stroke-width="0.7" fill="none"/>
<rect x="542.5" y="746.5" width="149.0" height="154.0" fill="none" stroke="#000" stroke-width="1.39"/>
<g font-size="17.2px" stroke="#000" stroke-width="0.2">
<text x="537.12" y="917.40">0</text>
<text x="565.47 575.01" y="917.40">40</text>
<text x="598.59 608.13" y="917.40">80</text>
<text x="626.85 636.26 646.02" y="917.40">120</text>
<text x="659.97 669.60 679.14" y="917.40">160</text>
<text x="511.94 521.48 526.25" y="905.60">0.0</text>
<text x="511.94 521.48 526.03" y="874.83">0.2</text>
<text x="511.94 521.48 526.25" y="844.06">0.4</text>
<text x="511.94 521.48 526.25" y="813.29">0.6</text>
<text x="511.94 521.48 526.25" y="782.52">0.8</text>
<text x="511.85 521.48 526.25" y="751.75">1.0</text>
</g>
<g font-size="20.6px" stroke="#000" stroke-width="0.22">
<text x="590.32" y="737.15">4</text>
<text x="632.05" y="737.15">3</text>
</g>
<path d="M615.43,728.25 L625.03,737.05 M625.03,728.25 L615.43,737.05" stroke="#000" stroke-width="0.9" fill="none"/>
<clipPath id="c44"><rect x="750.96" y="746.15" width="149.04" height="153.85"/></clipPath>
<path d="M751.5,900.5 H900.5" stroke="#00f" stroke-width="1.39" fill="none" stroke-linejoin="miter" clip-path="url(#c44)"/>
<path d="M825.50,746.15 V900.00" stroke="#f00" stroke-width="1.39" fill="none"/>
<path d="M751.5,900.5 v-6.1 M751.5,746.5 v6.1 M784.5,900.5 v-6.1 M784.5,746.5 v6.1 M817.5,900.5 v-6.1 M817.5,746.5 v6.1 M850.5,900.5 v-6.1 M850.5,746.5 v6.1 M883.5,900.5 v-6.1 M883.5,746.5 v6.1 M751.5,900.5 h6.3 M900.5,900.5 h-6.3 M751.5,869.5 h6.3 M900.5,869.5 h-6.3 M751.5,838.5 h6.3 M900.5,838.5 h-6.3 M751.5,808.5 h6.3 M900.5,808.5 h-6.3 M751.5,777.5 h6.3 M900.5,777.5 h-6.3 M751.5,746.5 h6.3 M900.5,746.5 h-6.3" stroke="#000" stroke-width="0.7" fill="none"/>
<rect x="751.5" y="746.5" width="149.0" height="154.0" fill="none" stroke="#000" stroke-width="1.39"/>
<g font-size="17.2px" stroke="#000" stroke-width="0.2">
<text x="745.77" y="917.40">0</text>
<text x="774.12 783.67" y="917.40">40</text>
<text x="807.24 816.79" y="917.40">80</text>
<text x="835.51 844.91 854.68" y="917.40">120</text>
<text x="868.63 878.26 887.80" y="917.40">160</text>
<text x="720.79 730.34 735.10" y="905.60">0.0</text>
<text x="720.79 730.34 734.88" y="874.83">0.2</text>
<text x="720.79 730.34 735.10" y="844.06">0.4</text>
<text x="720.79 730.34 735.10" y="813.29">0.6</text>
<text x="720.79 730.34 735.10" y="782.52">0.8</text>
<text x="720.71 730.34 735.10" y="751.75">1.0</text>
</g>
<g font-size="20.6px" stroke="#000" stroke-width="0.22">
<text x="798.97" y="737.15">4</text>
<text x="840.67" y="737.15">4</text>
</g>
<path d="M823.58,728.25 L833.18,737.05 M833.18,728.25 L823.58,737.05" stroke="#000" stroke-width="0.9" fill="none"/>
</svg>
</body></html>
